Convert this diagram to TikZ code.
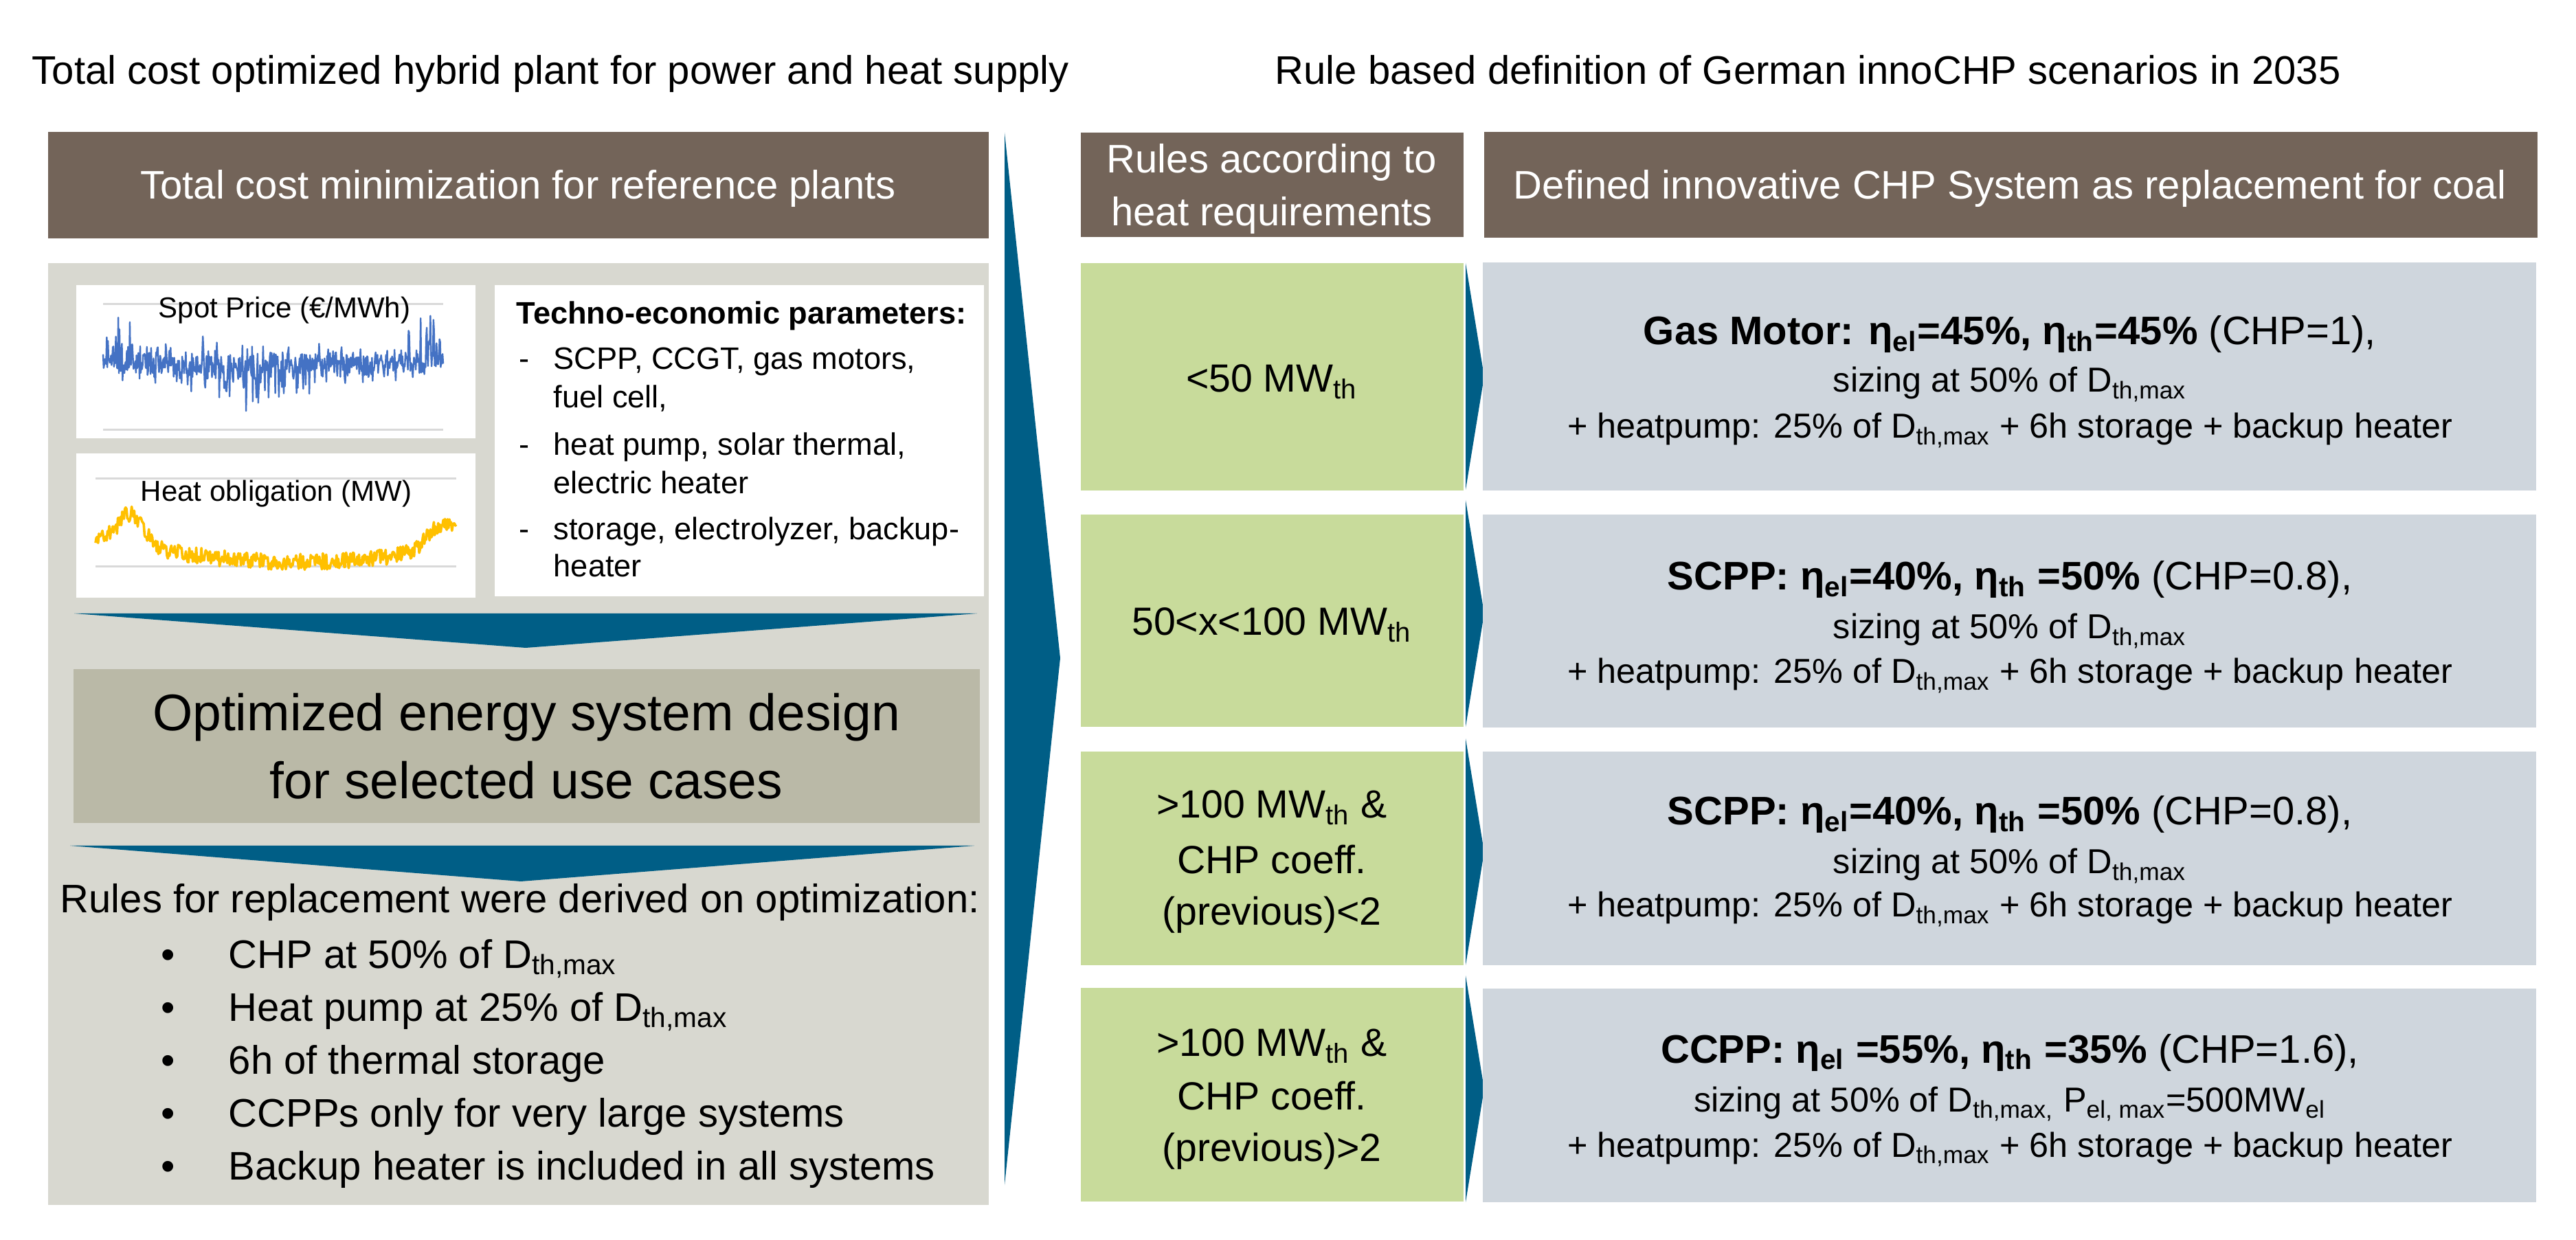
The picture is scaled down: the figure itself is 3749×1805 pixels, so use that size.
\documentclass[tikz,border=0pt]{standalone}
\usepackage{fontspec}
\setmainfont{Liberation Sans}
\usetikzlibrary{fit}
\definecolor{hbrown}{RGB}{115,100,89}
\definecolor{pgray}{RGB}{216,216,208}
\definecolor{khaki}{RGB}{186,185,167}
\definecolor{cblue}{RGB}{0,94,134}
\definecolor{lgreen}{RGB}{200,219,155}
\definecolor{lblue}{RGB}{207,214,221}
\definecolor{gridc}{RGB}{217,217,217}
\definecolor{spotc}{RGB}{68,114,196}
\definecolor{heatc}{RGB}{255,192,0}
\newcommand\fs[1]{\fontsize{#1pt}{#1pt}\selectfont}
\newcommand\lo[1]{\textsubscript{#1}}
\begin{document}
\begin{tikzpicture}[x=0.25pt,y=-0.25pt,
  box/.style={inner sep=0pt, outer sep=0pt, draw=none},
  t/.style={inner sep=0pt, anchor=base},
  tl/.style={inner sep=0pt, anchor=base west},
  gridl/.style={draw=gridc, line width=0.75pt},
  hdr/.style={t, white, font=\fs{14.5}},
  grn/.style={t, font=\fs{14.3}},
  rb1/.style={t, font=\fs{14.5}},
  rb2/.style={t, font=\fs{12.6}},
  tech/.style={tl, font=\fs{11.3}},
  rule/.style={tl, font=\fs{14.5}}]
\useasboundingbox (0,0) rectangle (3749,1805);
\pgfmathsetseed{7}

% titles
\node[tl, font=\fs{14.5}] (ttl) at (46,123) {Total cost optimized hybrid plant for power and heat supply};
\node[tl, font=\fs{14.5}] (ttr) at (1855,123) {Rule based definition of German innoCHP scenarios in 2035};

% headers
\node[box, fill=hbrown, fit={(70,192) (1439,347)}] (hL) {};
\node[hdr] (hLt) at (754,290) {Total cost minimization for reference plants};
\node[box, fill=hbrown, fit={(1573,193) (2130,345)}] (hM) {};
\node[hdr] (hMt1) at (1851,252) {Rules according to};
\node[hdr] (hMt2) at (1851,329) {heat requirements};
\node[box, fill=hbrown, fit={(2160,192) (3693,346)}] (hR) {};
\node[hdr] (hRt) at (2925,290) {Defined innovative CHP System as replacement for coal};

% left panel
\node[box, fill=pgray, fit={(70,383) (1439,1754)}] (panel) {};
\node[box, fill=white, fit={(111,415) (692,638)}] (spot) {};
\node[box, fill=white, fit={(111,660) (692,870)}] (heat) {};
\node[box, fill=white, fit={(720,415) (1432,868)}] (tech) {};

\draw[gridl] (150,443) -- (645,443);
\draw[gridl] (150,626) -- (645,626);
\draw[gridl] (139,697) -- (664,697);
\draw[gridl] (139,825) -- (664,825);

\draw[spotc, line width=0.6pt, line join=round] plot[domain=150:645, samples=560, variable=\x]
  (\x, {524 + 14*rand + (30+45*exp(-((\x-380)/110)*((\x-380)/110)))*rnd*rnd
        - (30+60*exp(-((\x-185)/25)*((\x-185)/25)) + 60*exp(-((\x-612)/25)*((\x-612)/25)))*pow(rnd,8)});
\draw[heatc, line width=0.9pt, line join=round] plot[domain=139:664, samples=420, variable=\x]
  (\x, {818 - 0.00045*(\x-430)*(\x-430) - 45*exp(-((\x-191)/25)*((\x-191)/25))
        - 35*exp(-((\x-645)/30)*((\x-645)/30)) + 12*rand});

\node[tl, font=\fs{10.5}] (spotl) at (230,463) {Spot Price (€/MWh)};
\node[tl, font=\fs{10.5}] (heatl) at (204,730) {Heat obligation (MW)};

\node[tech, font=\fs{11.3}\bfseries] (techt) at (751,472) {Techno-economic parameters:};
\node[tech] (d1) at (755,538) {-};
\node[tech] (l1a) at (805,538) {SCPP, CCGT, gas motors,};
\node[tech] (l1b) at (805,594) {fuel cell,};
\node[tech] (d2) at (755,663) {-};
\node[tech] (l2a) at (805,663) {heat pump, solar thermal,};
\node[tech] (l2b) at (805,719) {electric heater};
\node[tech] (d3) at (755,786) {-};
\node[tech] (l3a) at (805,786) {storage, electrolyzer, backup-};
\node[tech] (l3b) at (805,840) {heater};

\fill[cblue] (108,893) -- (1422,893) -- (765,943) -- cycle;
\node[box, fill=khaki, fit={(107,974) (1426,1198)}] (opt) {};
\node[t, font=\fs{18.75}] (opt1) at (766,1064) {Optimized energy system design};
\node[t, font=\fs{18.75}] (opt2) at (766,1163) {for selected use cases};
\fill[cblue] (102,1231) -- (1418,1231) -- (758,1283) -- cycle;

\node[rule] (rules) at (87,1329) {Rules for replacement were derived on optimization:};
\node[t, font=\fs{14.5}] (bu1) at (245,1409) {•};
\node[rule] (r1) at (332,1409) {CHP at 50\% of D\lo{th,max}};
\node[t, font=\fs{14.5}] (bu2) at (245,1486) {•};
\node[rule] (r2) at (332,1486) {Heat pump at 25\% of D\lo{th,max}};
\node[t, font=\fs{14.5}] (bu3) at (245,1563) {•};
\node[rule] (r3) at (332,1563) {6h of thermal storage};
\node[t, font=\fs{14.5}] (bu4) at (245,1640) {•};
\node[rule] (r4) at (332,1640) {CCPPs only for very large systems};
\node[t, font=\fs{14.5}] (bu5) at (245,1717) {•};
\node[rule] (r5) at (332,1717) {Backup heater is included in all systems};

% big chevron
\fill[cblue] (1462,193) -- (1543,958) -- (1462,1725) -- cycle;

% green boxes
\node[box, fill=lgreen, fit={(1573,383) (2130,714)}] (g1) {};
\node[box, fill=lgreen, fit={(1573,749) (2130,1058)}] (g2) {};
\node[box, fill=lgreen, fit={(1573,1094) (2130,1405)}] (g3) {};
\node[box, fill=lgreen, fit={(1573,1438) (2130,1749)}] (g4) {};
\node[grn] (g1t) at (1851,571) {<50 MW\lo{th}};
\node[grn] (g2t) at (1851,925) {50<x<100 MW\lo{th}};
\node[grn] (g3a) at (1851,1191) {>100 MW\lo{th} \&};
\node[grn] (g3b) at (1851,1272) {CHP coeff.};
\node[grn] (g3c) at (1851,1347) {(previous)<2};
\node[grn] (g4a) at (1851,1538) {>100 MW\lo{th} \&};
\node[grn] (g4b) at (1851,1615) {CHP coeff.};
\node[grn] (g4c) at (1851,1690) {(previous)>2};

% small chevrons
\fill[cblue] (2133,383) -- (2160,548) -- (2133,713) -- cycle;
\fill[cblue] (2133,728) -- (2160,893) -- (2133,1058) -- cycle;
\fill[cblue] (2133,1075) -- (2160,1240) -- (2133,1405) -- cycle;
\fill[cblue] (2133,1420) -- (2160,1585) -- (2133,1750) -- cycle;

% blue-grey boxes
\node[box, fill=lblue, fit={(2158,382) (3691,714)}] (b1) {};
\node[box, fill=lblue, fit={(2158,749) (3691,1059)}] (b2) {};
\node[box, fill=lblue, fit={(2158,1094) (3691,1405)}] (b3) {};
\node[box, fill=lblue, fit={(2158,1439) (3691,1750)}] (b4) {};

\node[rb1] (b1a) at (2925,502) {\textbf{Gas Motor: η\lo{el}=45\%, η\lo{th}=45\%} (CHP=1),};
\node[rb2] (b1b) at (2925,571) {sizing at 50\% of D\lo{th,max}};
\node[rb2] (b1c) at (2925,638) {+ heatpump: 25\% of D\lo{th,max} + 6h storage + backup heater};

\node[rb1] (b2a) at (2925,859) {\textbf{SCPP: η\lo{el}=40\%, η\lo{th} =50\%} (CHP=0.8),};
\node[rb2] (b2b) at (2925,930) {sizing at 50\% of D\lo{th,max}};
\node[rb2] (b2c) at (2925,995) {+ heatpump: 25\% of D\lo{th,max} + 6h storage + backup heater};

\node[rb1] (b3a) at (2925,1201) {\textbf{SCPP: η\lo{el}=40\%, η\lo{th} =50\%} (CHP=0.8),};
\node[rb2] (b3b) at (2925,1272) {sizing at 50\% of D\lo{th,max}};
\node[rb2] (b3c) at (2925,1335) {+ heatpump: 25\% of D\lo{th,max} + 6h storage + backup heater};

\node[rb1] (b4a) at (2925,1547) {\textbf{CCPP: η\lo{el} =55\%, η\lo{th} =35\%} (CHP=1.6),};
\node[rb2] (b4b) at (2925,1618) {sizing at 50\% of D\lo{th,max,} P\lo{el, max}=500MW\lo{el}};
\node[rb2] (b4c) at (2925,1684) {+ heatpump: 25\% of D\lo{th,max} + 6h storage + backup heater};
\end{tikzpicture}
\end{document}
